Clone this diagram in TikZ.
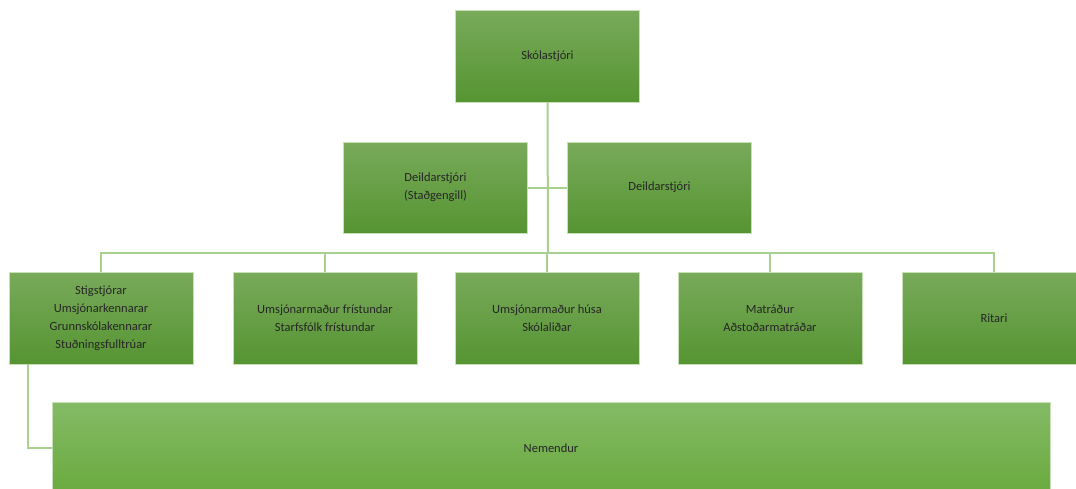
\documentclass[tikz,border=0pt]{standalone}
\usepackage{fontspec}
\setmainfont{Carlito}
\definecolor{boxtop}{RGB}{120,170,90}
\definecolor{boxbot}{RGB}{86,148,50}
\definecolor{nemtop}{RGB}{132,186,102}
\definecolor{nembot}{RGB}{106,170,62}
\definecolor{linegreen}{RGB}{168,208,142}
\definecolor{edgegreen}{RGB}{200,224,182}

\begin{document}
\begin{tikzpicture}[x=1pt,y=-1pt,
  orgbox/.style={rectangle, draw=edgegreen, line width=0.8pt,
    top color=boxtop, bottom color=boxbot,
    minimum width=184pt, minimum height=92pt, inner sep=2pt,
    align=center, font=\fontsize{12.5}{18}\selectfont, text=black!85},
  link/.style={draw=linegreen, line width=2pt}]
\useasboundingbox (0,0) rectangle (1076,488);

\node[orgbox] (skola) at (547.5,56) {Skólastjóri};

\node[orgbox, minimum height=91pt] (dst1) at (435.5,187.5) {Deildarstjóri\\(Staðgengill)};
\node[orgbox, minimum height=91pt] (dst2) at (659.5,187.5) {Deildarstjóri};

\node[orgbox] (stig) at (101,318) {Stigstjórar\\Umsjónarkennarar\\Grunnskólakennarar\\Stuðningsfulltrúar};
\node[orgbox] (fristund) at (325,318) {Umsjónarmaður frístundar\\Starfsfólk frístundar};
\node[orgbox] (husa) at (547,318) {Umsjónarmaður húsa\\Skólaliðar};
\node[orgbox] (mat) at (770,318) {Matráður\\Aðstoðarmatráðar};
\node[orgbox] (ritari) at (994,318) {Ritari};

\node[orgbox, minimum width=998pt, top color=nemtop, bottom color=nembot] (nem) at (551,448) {Nemendur};

\coordinate (bus) at (548,253);
\draw[link] (skola.south) -- (bus);
\draw[link] (dst1.east) -- (dst2.west);
\foreach \b in {stig,fristund,husa,mat,ritari}
  \draw[link] (bus) -| (\b.north);
\draw[link] ([xshift=19pt]stig.south west) |- (nem.west);

\end{tikzpicture}
\end{document}
